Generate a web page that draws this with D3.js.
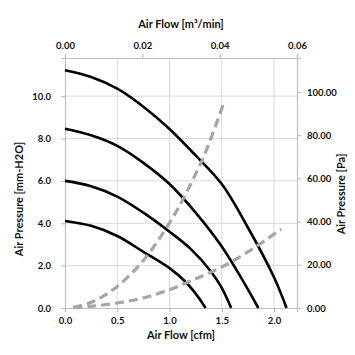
<!DOCTYPE html>
<html><head><meta charset="utf-8">
<script src="https://cdn.jsdelivr.net/npm/d3@7"></script>
<style>
html,body{margin:0;padding:0;background:#fff;}
svg text{font-family:Lato,"Open Sans",sans-serif;font-weight:700;fill:#111;}
</style></head>
<body><svg id="c" width="355" height="355"></svg>
<script>
// ---- data ----
const cfmTicks = [0, 0.5, 1.0, 1.5, 2.0];
const m3Ticks = [0, 0.02, 0.04, 0.06];
const mmTicks = [0, 2, 4, 6, 8, 10];
const paTicks = [0, 20, 40, 60, 80, 100];

const curve1Q = [0, 0.25, 0.5, 0.75, 1.0, 1.25, 1.5, 1.75, 2.0, 2.12];
const curve1P = [11.22, 10.9, 10.35, 9.5, 8.45, 7.2, 5.85, 3.8, 1.45, 0];
const curve2Q = [0, 0.25, 0.5, 0.75, 1.0, 1.25, 1.5, 1.7, 1.85];
const curve2P = [8.46, 8.15, 7.65, 6.85, 5.85, 4.5, 2.9, 1.3, 0];
const curve3Q = [0, 0.25, 0.5, 0.75, 1.0, 1.2, 1.4, 1.5, 1.59];
const curve3P = [6.0, 5.75, 5.26, 4.5, 3.6, 2.8, 1.7, 0.95, 0];
const curve4Q = [0, 0.25, 0.5, 0.75, 1.0, 1.15, 1.27, 1.345];
const curve4P = [4.11, 3.88, 3.4, 2.65, 1.88, 1.25, 0.55, 0];

const imp1Q = [0.08, 0.27, 0.5, 0.75, 1.0, 1.12, 1.23, 1.34, 1.52];
const imp1Pa = [0.3, 3, 10, 22, 39.4, 49.5, 60, 71.5, 95];
const imp2Q = [0.08, 0.27, 0.5, 0.75, 1.0, 1.25, 1.5, 1.75, 2.07];
const imp2Pa = [0.3, 0.9, 2.3, 4.7, 8.5, 13.5, 19, 26, 36.5];

// ---- layout ----
const L = 65, R = 297, T = 58, B = 308;
const svg = d3.select("#c");
const x = d3.scaleLinear().domain([0, 2.22]).range([L, R]);
const xTop = d3.scaleLinear().domain([0, 0.06]).range([L, R]);
const yL = d3.scaleLinear().domain([0, 11.8]).range([B, T]);
const yR = d3.scaleLinear().domain([0, 11.8 * 9.80665]).range([B, T]);

const gridC = "#d9d9d9", axC = "#bfbfbf";
// grid
svg.append("g").selectAll("line").data(cfmTicks.slice(1)).join("line")
  .attr("x1", d => x(d)).attr("x2", d => x(d)).attr("y1", T).attr("y2", B)
  .attr("stroke", gridC).attr("stroke-width", 1);
svg.append("g").selectAll("line").data(mmTicks.slice(1)).join("line")
  .attr("y1", d => yL(d)).attr("y2", d => yL(d)).attr("x1", L).attr("x2", R)
  .attr("stroke", gridC).attr("stroke-width", 1);

function styleAxis(g) {
  g.selectAll("path.domain").attr("stroke", axC).attr("stroke-width", 1.2);
  g.selectAll(".tick line").attr("stroke", axC).attr("stroke-width", 1.2);
  g.selectAll("text").attr("font-size", "9.5px").attr("font-family", "Lato,sans-serif").attr("font-weight", 700).attr("fill", "#111");
}
const gB = svg.append("g").attr("transform", `translate(0,${B})`)
  .call(d3.axisBottom(x).tickValues(cfmTicks).tickFormat(d3.format(".1f")).tickSizeOuter(0).tickSize(4).tickPadding(5));
styleAxis(gB);
const gT = svg.append("g").attr("transform", `translate(0,${T})`)
  .call(d3.axisTop(xTop).tickValues(m3Ticks).tickFormat(d3.format(".2f")).tickSizeOuter(0).tickSize(4).tickPadding(5));
styleAxis(gT);
const gLa = svg.append("g").attr("transform", `translate(${L},0)`)
  .call(d3.axisLeft(yL).tickValues(mmTicks).tickFormat(d3.format(".1f")).tickSizeOuter(0).tickSize(4).tickPadding(10));
styleAxis(gLa);
const gRa = svg.append("g").attr("transform", `translate(${R},0)`)
  .call(d3.axisRight(yR).tickValues(paTicks).tickFormat(d3.format(".2f")).tickSizeOuter(0).tickSize(4).tickPadding(6));
styleAxis(gRa);

// curves
const fanCurves = [[curve1Q, curve1P], [curve2Q, curve2P], [curve3Q, curve3P], [curve4Q, curve4P]];
const lineL = d3.line().x(d => x(d[0])).y(d => yL(d[1])).curve(d3.curveCatmullRom.alpha(0.5));
fanCurves.forEach(([q, p]) => {
  svg.append("path").datum(q.map((v, i) => [v, p[i]]))
    .attr("d", lineL).attr("fill", "none").attr("stroke", "#000").attr("stroke-width", 2.6);
});
const lineR = d3.line().x(d => x(d[0])).y(d => yR(d[1])).curve(d3.curveCatmullRom.alpha(0.5));
[[imp1Q, imp1Pa], [imp2Q, imp2Pa]].forEach(([q, p]) => {
  svg.append("path").datum(q.map((v, i) => [v, p[i]]))
    .attr("d", lineR).attr("fill", "none").attr("stroke", "#a6a6a6").attr("stroke-width", 3.2)
    .attr("stroke-dasharray", "9,5");
});

// titles
svg.append("text").attr("x", (L + R) / 2).attr("y", 25).attr("text-anchor", "middle")
  .attr("dominant-baseline", "middle").attr("font-size", "11px").text("Air Flow [m³/min]");
svg.append("text").attr("x", (L + R) / 2).attr("y", 336).attr("text-anchor", "middle")
  .attr("dominant-baseline", "middle").attr("font-size", "11px").text("Air Flow [cfm]");
svg.append("text").attr("transform", "translate(20,199) rotate(-90)").attr("text-anchor", "middle")
  .attr("dominant-baseline", "middle").attr("font-size", "11px").text("Air Pressure [mm-H2O]");
svg.append("text").attr("transform", "translate(342,194) rotate(-90)").attr("text-anchor", "middle")
  .attr("dominant-baseline", "middle").attr("font-size", "11px").text("Air Pressure [Pa]");
</script></body></html>
